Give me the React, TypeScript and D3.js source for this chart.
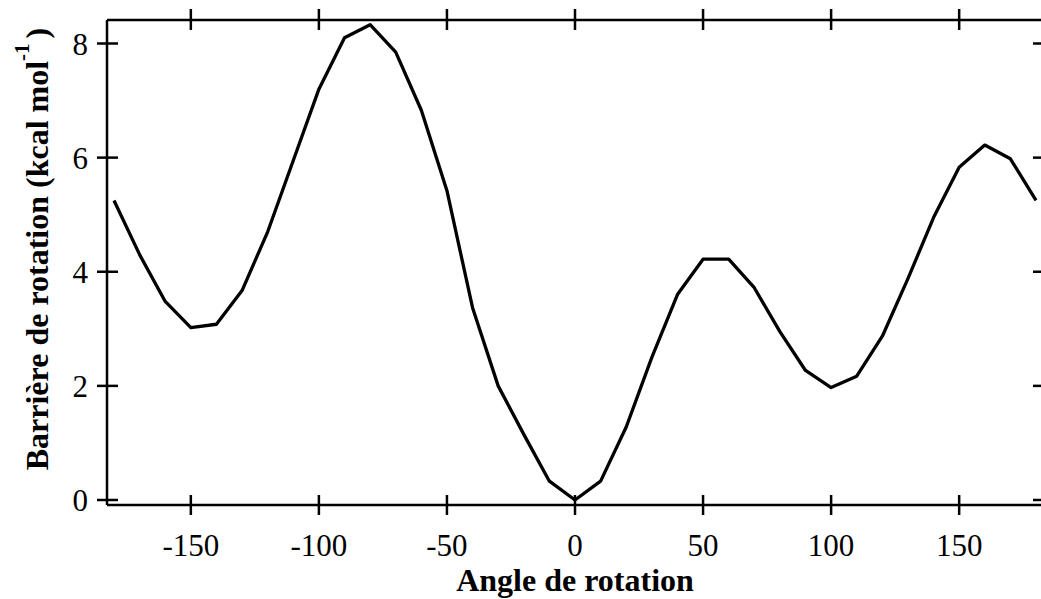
import React from "react";
import * as d3 from "d3";

const angles = [-180,-170,-160,-150,-140,-130,-120,-110,-100,-90,-80,-70,-60,-50,-40,-30,-20,-10,0,10,20,30,40,50,60,70,80,90,100,110,120,130,140,150,160,170,180];
const energies = [5.25,4.3,3.48,3.02,3.08,3.67,4.7,5.95,7.2,8.1,8.33,7.85,6.83,5.42,3.37,2.0,1.15,0.33,0,0.33,1.28,2.5,3.6,4.22,4.22,3.72,2.95,2.27,1.97,2.17,2.87,3.88,4.95,5.83,6.22,5.98,5.25];
const xTicks = [-150,-100,-50,0,50,100,150];
const yTicks = [0,2,4,6,8];

export default function App() {
  const W = 1041, H = 599;
  const x = d3.scaleLinear().domain([-180, 180]).range([114, 1036]);
  const y = d3.scaleLinear().domain([0, 8]).range([500, 43.5]);
  const left = 107, right = 1043, top = 20, bottom = 505;
  const line = d3.line<number>().x((d, i) => x(angles[i])).y(d => y(d));
  const font = "'Liberation Serif', 'Times New Roman', serif";
  return (
    <svg width={W} height={H} style={{ position: "absolute", left: 0, top: 0 }} fontFamily={font}>
      <rect x={0} y={0} width={W} height={H} fill="#fff" />
      <g stroke="#000" strokeWidth={2.5} fill="none">
        <line x1={left} x2={left} y1={top} y2={bottom} />
        <line x1={right} x2={right} y1={top} y2={bottom} />
        <line x1={left} x2={right} y1={top} y2={top} />
        <line x1={left} x2={right} y1={bottom} y2={bottom} />
        {xTicks.map(t => (
          <g key={"x" + t}>
            <line x1={x(t)} x2={x(t)} y1={bottom - 10} y2={bottom + 10} />
            <line x1={x(t)} x2={x(t)} y1={top - 11} y2={top + 10} />
          </g>
        ))}
        {yTicks.map(t => (
          <g key={"y" + t}>
            <line x1={left - 10} x2={left + 11} y1={y(t)} y2={y(t)} />
            <line x1={right - 10} x2={right + 10} y1={y(t)} y2={y(t)} />
          </g>
        ))}
        <path d={line(energies) || ""} strokeWidth={3.3} strokeLinejoin="round" />
      </g>
      <g fontSize={31} fill="#000">
        {xTicks.map(t => (
          <text key={"xl" + t} x={x(t)} y={556} textAnchor="middle">{t}</text>
        ))}
        {yTicks.map(t => (
          <text key={"yl" + t} x={88} y={y(t) + 11} textAnchor="end">{t}</text>
        ))}
      </g>
      <text x={575} y={591} textAnchor="middle" fontSize={32} fontWeight="bold">Angle de rotation</text>
      <text transform="translate(48,249) rotate(-90)" textAnchor="middle" fontSize={32} fontWeight="bold">
        Barrière de rotation (kcal mol<tspan dy={-19} fontSize={21}>-1</tspan><tspan dy={19} dx={5}>)</tspan>
      </text>
    </svg>
  );
}
